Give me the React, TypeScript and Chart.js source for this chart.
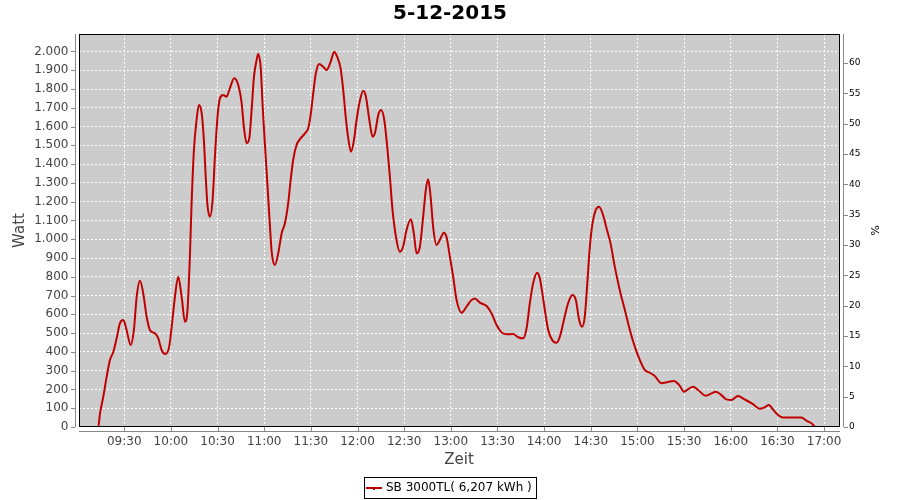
import React, { useEffect, useRef } from "react";
import { Chart, registerables } from "chart.js";

Chart.register(...registerables);

// ---------- data ----------
const chartTitle = "5-12-2015";
const seriesLabel = "SB 3000TL( 6,207 kWh )";
const xAxisTitle = "Zeit";
const yAxisTitle = "Watt";
const y2AxisTitle = "%";

// time of each reading, minutes since midnight
const timeMinutes = [
  549.7, 553.3, 554.4, 556.5, 558.7, 560.8, 563, 565.1, 567.2, 569.4,
  571.5, 574.1, 576.2, 578, 580.1, 582.2, 584.4, 586.5, 589.7, 591.9,
  594, 596.6, 598.9, 600.5, 602.6, 604.7, 606.9, 609, 610.5, 612.2,
  613.3, 614.8, 616.5, 618, 619.8, 621.2, 622.5, 623.6, 625.1, 626.8,
  628.3, 629.8, 631.5, 633.6, 635.8, 637.9, 640.7, 643.3, 645.5, 646.9,
  648.7, 650.4, 651.9, 653.4, 655.1, 656.1, 657.7, 659, 660.4, 661.9,
  663.7, 664.9, 666.9, 669, 671.2, 673.3, 675.4, 677, 678.6, 680.8,
  683.4, 686.2, 688.3, 690, 691.5, 693.2, 695.3, 697.9, 700.1, 702.7,
  705, 706.9, 709.1, 710.8, 712.3, 714.2, 715.8, 717.7, 719.4, 721.6,
  723.7, 725.4, 727.6, 729.7, 731.4, 733.3, 735.2, 737.2, 739.1, 740.8,
  742.5, 744.7, 747.2, 749.3, 751.5, 754.3, 756.2, 758, 760.1, 762.2,
  763.9, 765.4, 767, 768.6, 770.8, 772.9, 775.5, 777.2, 779.4, 781.5,
  783.7, 786.9, 790.1, 792.9, 795.4, 798.7, 803, 806.2, 809.4, 812.6,
  815.8, 820, 823.3, 826.5, 828.7, 830.8, 832.9, 835.5, 837.2, 839.8,
  842.6, 845.4, 848, 850.1, 852.7, 855.4, 858.2, 860.4, 862.5, 864.4,
  866.1, 867.6, 869.4, 871.1, 873.2, 875.3, 877.9, 880.1, 882.7, 885.4,
  888.6, 891.9, 895.1, 898.3, 901.5, 904.7, 907.9, 911.1, 915.4, 919.7,
  923.5, 926.8, 930, 932.5, 935.8, 939, 943.9, 947.6, 950.4, 954,
  957.2, 960.4, 964.6, 968.9, 974.3, 978.6, 981.8, 984.6, 987.1, 990.4,
  993.6, 1000, 1005.4, 1008.6, 1011.9, 1014.6, 1019.8,
];

// power in W
const watts = [
  0, 0, 73, 161, 268, 357, 401, 472, 552, 570,
  517, 437, 517, 694, 779, 712, 587, 517, 499, 472,
  410, 389, 428, 534, 694, 800, 694, 561, 605, 907,
  1191, 1475, 1635, 1715, 1670, 1528, 1315, 1173, 1120, 1209,
  1439, 1635, 1750, 1768, 1759, 1804, 1857, 1821, 1724, 1599,
  1511, 1537, 1688, 1865, 1954, 1986, 1919, 1706, 1511, 1315,
  1067, 925, 863, 925, 1031, 1085, 1191, 1315, 1422, 1502,
  1537, 1564, 1591, 1670, 1777, 1883, 1933, 1919, 1901, 1945,
  1998, 1972, 1910, 1795, 1660, 1528, 1466, 1528, 1635, 1741,
  1791, 1759, 1635, 1546, 1573, 1661, 1688, 1635, 1493, 1333,
  1156, 1013, 933, 960, 1049, 1106, 1031, 925, 960, 1120,
  1262, 1319, 1226, 1067, 969, 996, 1035, 1013, 907, 800,
  676, 609, 641, 673, 685, 662, 644, 605, 543, 504,
  494, 495, 478, 472, 526, 659, 765, 822, 792, 659,
  517, 460, 449, 481, 570, 659, 703, 676, 570, 534,
  587, 747, 960, 1085, 1156, 1173, 1129, 1058, 978, 854,
  730, 623, 517, 428, 357, 304, 289, 272, 233, 240,
  245, 224, 188, 201, 215, 197, 167, 179, 188, 170,
  147, 144, 165, 147, 122, 97, 105, 117, 94, 64,
  50, 50, 50, 34, 20, 0, 0,
];

const xTickLabels = [
  "09:30", "10:00", "10:30", "11:00", "11:30", "12:00", "12:30", "13:00",
  "13:30", "14:00", "14:30", "15:00", "15:30", "16:00", "16:30", "17:00",
];
const wattTicks = [
  0, 100, 200, 300, 400, 500, 600, 700, 800, 900, 1000,
  1100, 1200, 1300, 1400, 1500, 1600, 1700, 1800, 1900, 2000,
];
const percentTicks = [0, 5, 10, 15, 20, 25, 30, 35, 40, 45, 50, 55, 60];

const xMin = 540.9;
const xMax = 1029.6;
const wattMin = 0;
const wattMax = 2093;
const percentMin = 0;
const percentMax = 64.8;

// ---------- helpers ----------
const FONT = "'DejaVu Sans', sans-serif";
const toMinutes = (hhmm: string) => {
  const [h, m] = hhmm.split(":").map(Number);
  return h * 60 + m;
};
const formatThousands = (v: number) =>
  String(Math.round(v)).replace(/\B(?=(\d{3})+(?!\d))/g, ".");

const framePlugin = {
  id: "jfreeFrame",
  beforeDraw(chart: any) {
    const { ctx, chartArea: a } = chart;
    ctx.save();
    ctx.fillStyle = "#cccccc";
    ctx.fillRect(a.left, a.top, a.right - a.left, a.bottom - a.top);
    ctx.restore();
  },
  afterDraw(chart: any) {
    const { ctx, chartArea: a, scales } = chart;
    const L = Math.round(a.left);
    const R = Math.round(a.right);
    const T = Math.round(a.top);
    const B = Math.round(a.bottom);
    ctx.save();
    // plot border
    ctx.strokeStyle = "#000";
    ctx.lineWidth = 1;
    ctx.strokeRect(L + 0.5, T + 0.5, R - L, B - T - 1);

    // offset axis lines
    ctx.strokeStyle = "#888888";
    ctx.beginPath();
    ctx.moveTo(L - 3.5, T);
    ctx.lineTo(L - 3.5, B);
    ctx.moveTo(L, B + 4.5);
    ctx.lineTo(R + 1, B + 4.5);
    ctx.moveTo(R + 4.5, T);
    ctx.lineTo(R + 4.5, B);
    ctx.stroke();

    // tick marks
    ctx.beginPath();
    scales.y.ticks.forEach((t: any) => {
      const py = Math.round(scales.y.getPixelForValue(t.value)) + 0.5;
      ctx.moveTo(L - 8, py);
      ctx.lineTo(L - 4, py);
    });
    scales.y1.ticks.forEach((t: any) => {
      const py = Math.round(scales.y1.getPixelForValue(t.value)) + 0.5;
      ctx.moveTo(R + 5, py);
      ctx.lineTo(R + 9, py);
    });
    scales.x.ticks.forEach((t: any) => {
      const px = Math.round(scales.x.getPixelForValue(t.value)) + 0.5;
      ctx.moveTo(px, B);
      ctx.lineTo(px, B + 4);
    });
    ctx.stroke();

    // legend
    ctx.font = `12px ${FONT}`;
    const tw = ctx.measureText(seriesLabel).width;
    const boxW = Math.round(22 + tw + 4);
    const left = Math.round(chart.width / 2 - boxW / 2);
    const top = 477;
    const h = 21;
    ctx.strokeStyle = "#000";
    ctx.lineWidth = 1;
    ctx.strokeRect(left + 0.5, top + 0.5, boxW, h);
    const midY = top + h / 2 + 0.5;
    ctx.strokeStyle = "#c00000";
    ctx.lineWidth = 2;
    ctx.beginPath();
    ctx.moveTo(left + 2, midY);
    ctx.lineTo(left + 18, midY);
    ctx.stroke();
    ctx.fillStyle = "#c00000";
    ctx.fillRect(left + 9, midY, 2, 2);
    ctx.fillStyle = "#000";
    ctx.textBaseline = "middle";
    ctx.textAlign = "left";
    ctx.fillText(seriesLabel, left + 22, midY);
    ctx.restore();
  },
};

export default function App() {
  const canvasRef = useRef<HTMLCanvasElement | null>(null);

  useEffect(() => {
    if (!canvasRef.current) return;
    const points = timeMinutes.map((t, i) => ({ x: t, y: watts[i] }));
    const tickValues = xTickLabels.map(toMinutes);

    const chart = new Chart(canvasRef.current, {
      type: "line",
      data: {
        datasets: [
          {
            label: seriesLabel,
            data: points,
            yAxisID: "y",
            borderColor: "#c00000",
            borderWidth: 2,
            pointRadius: 0,
            fill: false,
            cubicInterpolationMode: "monotone",
          },
        ],
      },
      options: {
        responsive: false,
        animation: false,
        events: [],
        layout: { padding: { left: 0, right: 0, top: 0, bottom: 27 } },
        plugins: {
          legend: { display: false },
          tooltip: { enabled: false },
          title: {
            display: true,
            text: chartTitle,
            color: "#000",
            font: { family: FONT, size: 20, weight: "bold", lineHeight: 1.2 },
            padding: { top: 2, bottom: 8 },
          },
        },
        scales: {
          x: {
            type: "linear",
            min: xMin,
            max: xMax,
            afterBuildTicks: (s: any) => {
              s.ticks = tickValues.map((v) => ({ value: v }));
            },
            afterFit: (s: any) => {
              s.height = 46;
            },
            grid: { color: "#ffffff", lineWidth: 1, drawTicks: false },
            border: { display: false, dash: [2, 2] },
            ticks: {
              autoSkip: false,
              maxRotation: 0,
              padding: 8,
              color: "#444444",
              font: { family: FONT, size: 12 },
              callback: (v: any) => {
                const i = tickValues.indexOf(Number(v));
                return i >= 0 ? xTickLabels[i] : "";
              },
            },
            title: {
              display: true,
              text: xAxisTitle,
              color: "#444444",
              font: { family: FONT, size: 15 },
              padding: { top: 0, bottom: 4 },
            },
          },
          y: {
            type: "linear",
            position: "left",
            min: wattMin,
            max: wattMax,
            afterBuildTicks: (s: any) => {
              s.ticks = wattTicks.map((v) => ({ value: v }));
            },
            afterFit: (s: any) => {
              s.width = 79;
            },
            grid: { color: "#ffffff", lineWidth: 1, drawTicks: false },
            border: { display: false, dash: [2, 2] },
            ticks: {
              autoSkip: false,
              padding: 10.5,
              color: "#444444",
              font: { family: FONT, size: 12 },
              callback: (v: any) => formatThousands(Number(v)),
            },
            title: {
              display: true,
              text: yAxisTitle,
              color: "#444444",
              font: { family: FONT, size: 15 },
              padding: { top: 11.5, bottom: 0 },
            },
          },
          y1: {
            type: "linear",
            position: "right",
            min: percentMin,
            max: percentMax,
            afterBuildTicks: (s: any) => {
              s.ticks = percentTicks.map((v) => ({ value: v }));
            },
            afterFit: (s: any) => {
              s.width = 61;
            },
            grid: { display: false, drawTicks: false },
            border: { display: false },
            ticks: {
              autoSkip: false,
              padding: 10,
              color: "#000000",
              font: { family: FONT, size: 9 },
            },
            title: {
              display: true,
              text: y2AxisTitle,
              color: "#000000",
              font: { family: FONT, size: 11 },
              padding: { top: 20, bottom: 0 },
            },
          },
        },
      },
      plugins: [framePlugin],
    } as any);

    return () => chart.destroy();
  }, []);

  return (
    <div
      style={{
        position: "absolute",
        left: 0,
        top: 0,
        width: 900,
        height: 500,
        background: "#ffffff",
      }}
    >
      <canvas ref={canvasRef} width={900} height={500} style={{ display: "block" }} />
    </div>
  );
}
